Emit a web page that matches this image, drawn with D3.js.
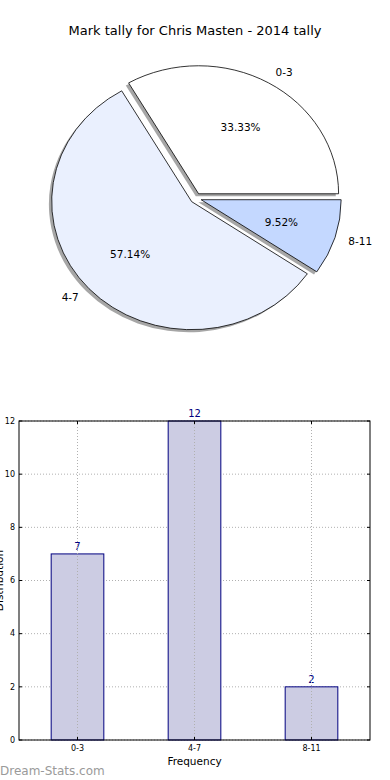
<!DOCTYPE html>
<html><head><meta charset="utf-8">
<script src="https://cdn.jsdelivr.net/npm/d3@7"></script>
<style>body{margin:0;background:#fff;} svg{display:block;font-family:"DejaVu Sans",sans-serif;}</style>
</head><body>
<svg id="c" width="390" height="780"></svg>
<script>
const categories = ["0-3", "4-7", "8-11"];
const counts = [7, 12, 2];
const pieColors = ["#ffffff", "#eaf0fe", "#c4d8ff"];
const yTicks = [0, 2, 4, 6, 8, 10, 12];
const title = "Mark tally for Chris Masten - 2014 tally";
const xLabel = "Frequency";
const yLabel = "Distribution";

(function () {
const svg = d3.select("#c");

// Title
svg.append("text").attr("x", 195).attr("y", 35).attr("text-anchor", "middle")
  .attr("font-size", 13).attr("fill", "#000").text(title);

// ---------- Pie ----------
const cx = 195.8, cy = 198.2, rx = 140, ry = 128, explode = 0.04;
const total = d3.sum(counts);
let acc = 0;
const slices = counts.map((v, i) => {
  const a0 = acc / total * 2 * Math.PI;
  acc += v;
  const a1 = acc / total * 2 * Math.PI;
  return {i, v, a0, a1, mid: (a0 + a1) / 2};
});
const arc = d3.arc().innerRadius(0).outerRadius(ry);
const sx = rx / ry;
const pieG = svg.append("g");
slices.forEach(s => {
  const ox = explode * Math.cos(s.mid) * rx;
  const oy = -explode * Math.sin(s.mid) * ry;
  const d = arc({startAngle: Math.PI / 2 - s.a0, endAngle: Math.PI / 2 - s.a1});
  pieG.append("path").attr("d", d)
    .attr("transform", `translate(${cx + ox - 2.8},${cy + oy + 2.6}) scale(${sx},1)`)
    .attr("fill", "#4d4d4d").attr("fill-opacity", 0.5);
  pieG.append("path").attr("d", d)
    .attr("transform", `translate(${cx + ox},${cy + oy}) scale(${sx},1)`)
    .attr("fill", pieColors[s.i]).attr("stroke", "#000").attr("stroke-width", 0.8)
    .attr("vector-effect", "non-scaling-stroke");
  const c = Math.cos(s.mid), sn = Math.sin(s.mid);
  pieG.append("text")
    .attr("x", cx + ox + 1.1 * c * rx).attr("y", cy + oy - 1.1 * sn * ry)
    .attr("dy", "0.35em").attr("font-size", 10.5)
    .attr("text-anchor", c > 0 ? "start" : "end").text(categories[s.i]);
  pieG.append("text")
    .attr("x", cx + ox + 0.6 * c * rx).attr("y", cy + oy - 0.6 * sn * ry)
    .attr("dy", "0.35em").attr("font-size", 10.5).attr("text-anchor", "middle")
    .text((s.v / total * 100).toFixed(2) + "%");
});

// ---------- Bar chart ----------
const pLeft = 19, pRight = 370, pTop = 421, pBottom = 740;
const x = d3.scaleLinear().domain([-0.5, categories.length - 0.5]).range([pLeft, pRight]);
const y = d3.scaleLinear().domain([0, 12]).range([pBottom, pTop]);
const barW = 0.45;
const g = svg.append("g");

yTicks.forEach(t => {
  g.append("line").attr("x1", pLeft).attr("x2", pRight).attr("y1", y(t)).attr("y2", y(t))
    .attr("stroke", "#b0b0b0").attr("stroke-dasharray", "1,2");
});

categories.forEach((c, i) => {
  g.append("rect").attr("x", x(i - barW / 2)).attr("y", y(counts[i]))
    .attr("width", x(barW) - x(0)).attr("height", y(0) - y(counts[i]))
    .attr("fill", "#ccccE3").attr("stroke", "#000080").attr("stroke-width", 1);
  g.append("text").attr("x", x(i)).attr("y", y(counts[i]) - 4)
    .attr("text-anchor", "middle").attr("font-size", 10).attr("fill", "#000080").text(counts[i]);
});
categories.forEach((c, i) => {
  g.append("line").attr("x1", x(i)).attr("x2", x(i)).attr("y1", pTop).attr("y2", pBottom)
    .attr("stroke", "#b0b0b0").attr("stroke-dasharray", "1,2");
});

g.append("rect").attr("x", pLeft).attr("y", pTop).attr("width", pRight - pLeft).attr("height", pBottom - pTop)
  .attr("fill", "none").attr("stroke", "#000").attr("stroke-width", 1);

yTicks.forEach(t => {
  g.append("line").attr("x1", pLeft).attr("x2", pLeft + 3).attr("y1", y(t)).attr("y2", y(t)).attr("stroke", "#000");
  g.append("line").attr("x1", pRight).attr("x2", pRight - 3).attr("y1", y(t)).attr("y2", y(t)).attr("stroke", "#000");
  g.append("text").attr("x", pLeft - 4).attr("y", y(t)).attr("dy", "0.35em")
    .attr("text-anchor", "end").attr("font-size", 8).text(t);
});
categories.forEach((c, i) => {
  g.append("line").attr("x1", x(i)).attr("x2", x(i)).attr("y1", pBottom).attr("y2", pBottom - 3).attr("stroke", "#000");
  g.append("line").attr("x1", x(i)).attr("x2", x(i)).attr("y1", pTop).attr("y2", pTop + 3).attr("stroke", "#000");
  g.append("text").attr("x", x(i)).attr("y", pBottom + 11).attr("text-anchor", "middle")
    .attr("font-size", 8).text(c);
});

g.append("text").attr("x", (pLeft + pRight) / 2).attr("y", 765).attr("text-anchor", "middle")
  .attr("font-size", 10.5).text(xLabel);
g.append("text").attr("transform", `translate(3,${(pTop + pBottom) / 2}) rotate(-90)`)
  .attr("text-anchor", "middle").attr("font-size", 10.5).text(yLabel);

svg.append("text").attr("x", 0).attr("y", 775).attr("font-size", 12).attr("fill", "#9a9a9a")
  .text("Dream-Stats.com");
})();
</script>
</body></html>
